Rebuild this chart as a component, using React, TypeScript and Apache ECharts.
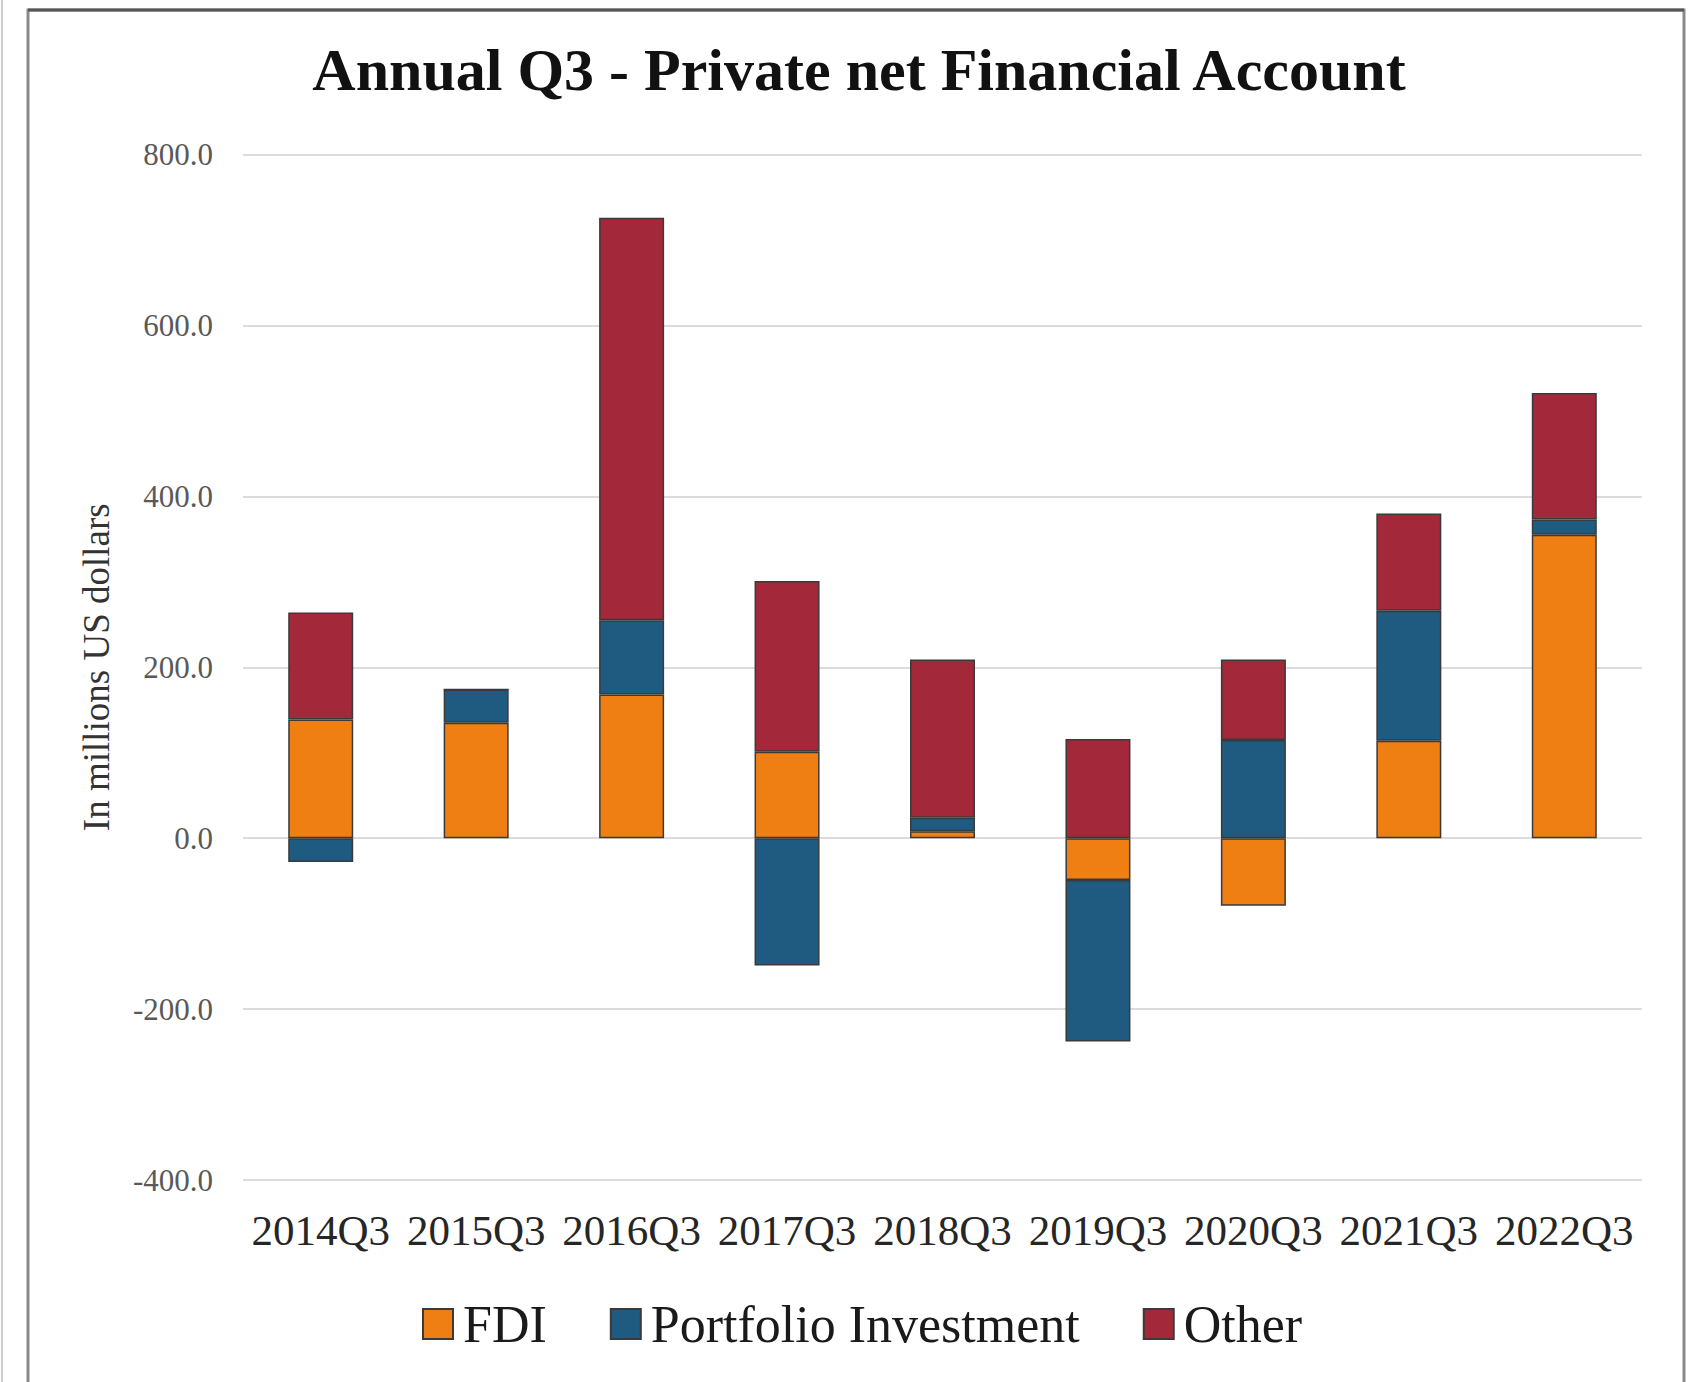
import React, { useEffect, useRef } from "react";
import * as echarts from "echarts";

const categories = ["2014Q3", "2015Q3", "2016Q3", "2017Q3", "2018Q3", "2019Q3", "2020Q3", "2021Q3", "2022Q3"];
const fdi = [139, 135, 168, 101, 8, -49, -79, 114, 355];
const portfolio = [-28, 39, 87, -149, 16, -189, 115, 152, 18];
const other = [125, 0, 471, 200, 185, 116, 94, 114, 148];
const seriesNames = ["FDI", "Portfolio Investment", "Other"];
const colors = ["#EF7F12", "#1F5B80", "#A3283A"];

const FONT = "'Liberation Serif', 'Times New Roman', serif";

export default function App() {
  const ref = useRef<HTMLDivElement>(null);
  useEffect(() => {
    if (!ref.current) return;
    const chart = echarts.init(ref.current, undefined, { renderer: "svg" });
    const data = [fdi, portfolio, other];
    chart.setOption({
      animation: false,
      backgroundColor: "#ffffff",
      title: {
        text: "Annual Q3 - Private net Financial Account",
        left: 854,
        textAlign: "center",
        top: 35,
        textStyle: { fontFamily: FONT, fontSize: 60, fontWeight: "bold", color: "#111111" },
      },
      graphic: [
        { type: "rect", shape: { x: 28, y: 10, width: 1656, height: 1420 }, style: { fill: "none", stroke: "#8a8a8a", lineWidth: 3 } },
        { type: "line", shape: { x1: 28, y1: 10, x2: 1684, y2: 10 }, style: { stroke: "#555555", lineWidth: 3 } },
        { type: "line", shape: { x1: 2, y1: 0, x2: 2, y2: 1382 }, style: { stroke: "#bbbbbb", lineWidth: 1.5 } },
      ],
      grid: { left: 243, right: 52, top: 154.5, bottom: 202, containLabel: false },
      legend: {
        data: seriesNames,
        left: 422,
        top: 1298,
        padding: 0,
        icon: "rect",
        itemWidth: 30,
        itemHeight: 30,
        itemGap: 63,
        textStyle: { fontFamily: FONT, fontSize: 52, color: "#1a1a1a", padding: [0, 0, 0, 5] },
      },
      xAxis: {
        type: "category",
        data: categories,
        axisLine: { show: false, onZero: false },
        axisTick: { show: false },
        axisLabel: { fontFamily: FONT, fontSize: 43, color: "#262626", margin: 29, interval: 0 },
      },
      yAxis: {
        type: "value",
        min: -400,
        max: 800,
        interval: 200,
        name: "In millions US dollars",
        nameLocation: "middle",
        nameRotate: 90,
        nameGap: 128,
        nameTextStyle: { fontFamily: FONT, fontSize: 37, color: "#333333" },
        axisLine: { show: false },
        axisTick: { show: false },
        axisLabel: {
          fontFamily: FONT,
          fontSize: 31,
          color: "#595959",
          margin: 30,
          formatter: (v: number) => v.toFixed(1),
        },
        splitLine: { lineStyle: { color: "#dcdcdc", width: 2 } },
      },
      series: seriesNames.map((name, i) => ({
        name,
        type: "bar",
        stack: "total",
        barWidth: 65,
        data: data[i],
        itemStyle: { color: colors[i], borderColor: "#3a3a3a", borderWidth: 1.5 },
      })),
    });
    return () => chart.dispose();
  }, []);
  return (
    <div
      ref={ref}
      style={{ position: "absolute", left: 0, top: 0, width: 1694, height: 1382, background: "#fff" }}
    />
  );
}
